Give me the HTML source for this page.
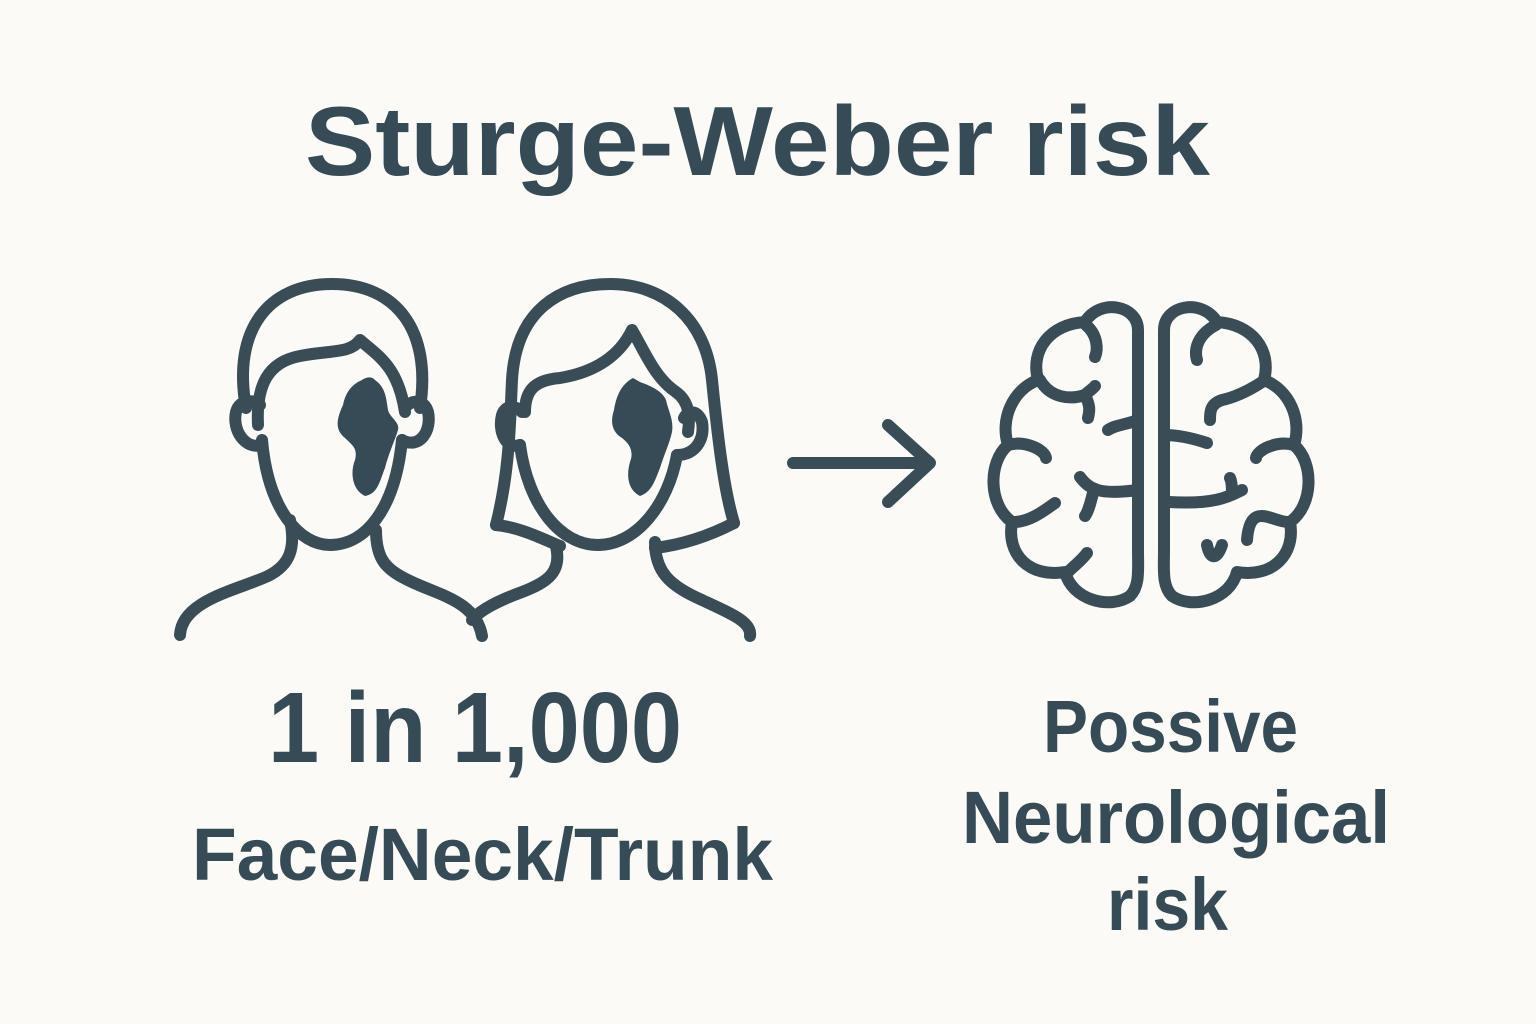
<!DOCTYPE html>
<html><head><meta charset="utf-8"><style>
html,body{margin:0;padding:0;background:#fbfaf7;}
svg{display:block}
text{font-family:"Liberation Sans",sans-serif;font-weight:bold;fill:#364b56}
</style></head><body>
<svg width="1536" height="1024" viewBox="0 0 1536 1024">
<rect width="1536" height="1024" fill="#fbfaf7"/>
<text x="305" y="175" font-size="98" textLength="905" lengthAdjust="spacingAndGlyphs">Sturge-Weber risk</text>
<text x="268" y="762" font-size="100" textLength="414" lengthAdjust="spacingAndGlyphs">1 in 1,000</text>
<text x="192" y="880" font-size="74" textLength="581" lengthAdjust="spacingAndGlyphs">Face/Neck/Trunk</text>
<text x="1043" y="752" font-size="74" textLength="255" lengthAdjust="spacingAndGlyphs">Possive</text>
<text x="962" y="843" font-size="74" textLength="428" lengthAdjust="spacingAndGlyphs">Neurological</text>
<text x="1107" y="930" font-size="74" textLength="121" lengthAdjust="spacingAndGlyphs">risk</text>

<g fill="none" stroke="#3a4d57" stroke-width="12" stroke-linecap="round" stroke-linejoin="round">
<!-- male -->
<path d="M246 408 C232 330 268 284 332 284 C396 284 432 330 420 408"/>
<path d="M258 425 C256 385 268 362 300 356 C330 350 350 354 360 340 C378 356 398 366 405 412"/>
<path d="M262 440 C268 510 300 545 330 545 C365 545 395 510 402 440"/>
<path d="M262 445 C245 450 232 430 236 412 C240 398 255 400 260 405"/>
<path d="M402 440 C420 450 432 430 428 412 C424 398 410 400 405 408"/>
<path d="M290 520 C296 548 290 565 268 576 C238 590 182 600 180 635"/>
<path d="M376 530 C376 560 386 570 412 582 C442 596 476 602 482 636"/>
<!-- female -->
<path d="M496 525 C510 470 510 420 512 380 C516 310 560 284 610 284 C665 284 706 320 712 380 C718 440 724 490 734 523"/>
<path d="M496 525 C520 527 545 540 560 546"/>
<path d="M734 523 C705 538 680 545 655 548"/>
<path d="M525 412 C525 390 535 380 560 378 C596 372 620 355 632 330 C645 352 655 378 676 392 C690 402 690 418 688 432"/>
<path d="M520 445 C528 505 560 545 598 545 C636 545 668 505 677 455"/>
<path d="M520 445 C505 450 498 430 502 415 C505 405 515 405 522 412"/>
<path d="M677 455 C695 455 705 440 702 422 C698 410 688 410 684 418"/>
<path d="M556 546 C562 572 548 582 522 592 C500 600 480 610 472 620"/>
<path d="M655 542 C655 572 670 586 702 600 C732 614 752 622 750 636"/>
<!-- arrow -->
<path d="M793 463 L928 463 M888 425 L930 463 L888 502"/>
<!-- brain -->
<g>
<path d="M1138 330 C1138 305 1100 298 1085 322 C1050 324 1030 350 1038 380 C1012 390 1000 420 1008 445 C988 462 988 505 1012 522 C1006 555 1030 578 1065 572 C1072 600 1110 610 1130 596 C1140 586 1138 570 1138 550 Z"/>
<path d="M1086 325 C1098 335 1098 350 1095 357"/>
<path d="M1040 380 C1050 398 1070 400 1085 395 C1090 390 1094 388 1095 386 M1085 395 C1090 405 1090 410 1088 418"/>
<path d="M1008 445 C1025 440 1045 450 1046 458"/>
<path d="M1108 430 C1115 425 1125 425 1138 420"/>
<path d="M1080 477 C1090 490 1100 495 1138 490 M1093 493 C1090 505 1088 512 1085 516"/>
<path d="M1014 522 C1030 522 1045 510 1055 503"/>
<path d="M1068 572 C1075 565 1082 560 1087 553"/>
</g>
<g transform="translate(2302,0) scale(-1,1)">
<path d="M1138 330 C1138 305 1100 298 1085 322 C1050 324 1030 350 1038 380 C1012 390 1000 420 1008 445 C988 462 988 505 1012 522 C1006 555 1030 578 1065 572 C1072 600 1110 610 1130 596 C1140 586 1138 570 1138 550 Z"/>
<path d="M1086 325 C1105 335 1108 350 1105 360"/>
<path d="M1040 382 C1055 392 1070 398 1080 400 C1092 404 1092 412 1092 420"/>
<path d="M1008 445 C1025 440 1045 450 1046 458"/>
<path d="M1095 443 C1110 438 1125 435 1138 435"/>
<path d="M1060 490 C1070 495 1085 505 1133 502 M1070 493 C1070 485 1071 480 1072 478"/>
<path d="M1014 522 C1030 522 1052 500 1055 540 M1080 545 C1085 560 1092 560 1095 545"/>
</g>
</g>
<path d="M362 380 C350 385 345 395 343 405 C336 420 335 430 345 438 C352 445 358 448 355 460 C350 472 352 490 365 496 C378 494 380 480 385 468 C388 455 395 440 398 430 C400 422 390 418 388 410 C386 398 386 388 375 380 C372 376 366 377 362 380 Z" fill="#364b56"/>
<path d="M633 378 C620 385 616 398 614 410 C610 422 612 432 622 438 C630 444 634 452 630 462 C626 476 628 490 640 496 C652 492 655 480 660 468 C664 455 670 442 672 432 C674 420 668 410 666 400 C662 390 648 385 640 382 Z" fill="#364b56"/>
</svg>
</body></html>
